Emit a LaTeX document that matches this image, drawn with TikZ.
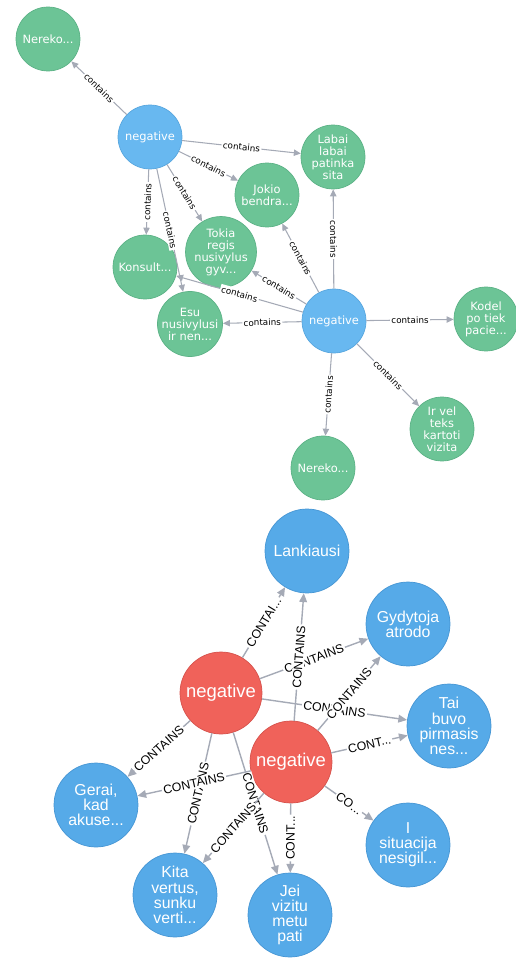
\documentclass[tikz,border=0pt]{standalone}
\usepackage{fontspec}
\newfontfamily\topfont{DejaVu Sans}
\newfontfamily\botfont{Liberation Sans}
\usetikzlibrary{shapes,arrows.meta}

\definecolor{leafgreen}{RGB}{108,196,150}
\definecolor{leafgreenline}{RGB}{92,178,134}
\definecolor{hubblue}{RGB}{104,184,240}
\definecolor{hubblueline}{RGB}{88,166,222}
\definecolor{botblue}{RGB}{86,170,232}
\definecolor{botblueline}{RGB}{70,150,212}
\definecolor{botred}{RGB}{240,98,90}
\definecolor{botredline}{RGB}{214,82,76}
\definecolor{edgegray}{RGB}{165,170,182}

\begin{document}
\begin{tikzpicture}[
    x=0.02cm, y=-0.02cm,
    leaf_top/.style={
        circle,
        draw=leafgreenline,
        fill=leafgreen,
        minimum size=1.28cm,
        inner sep=0pt,
        align=center,
        text=white,
        font=\topfont\fontsize{6.5}{6.8}\selectfont
    },
    hub_top/.style={
        leaf_top,
        draw=hubblueline,
        fill=hubblue
    },
    leaf_bottom/.style={
        circle,
        draw=botblueline,
        fill=botblue,
        minimum size=1.68cm,
        inner sep=0pt,
        align=center,
        text=white,
        font=\botfont\fontsize{9}{8.6}\selectfont
    },
    hub_bottom/.style={
        leaf_bottom,
        draw=botredline,
        fill=botred,
        minimum size=1.64cm,
        font=\botfont\fontsize{10.5}{10}\selectfont
    },
    line_top/.style={
        draw=edgegray,
        line width=0.6pt,
        -{Triangle[length=4pt,width=3.6pt]}
    },
    line_bottom/.style={
        draw=edgegray,
        line width=0.8pt,
        -{Triangle[length=5pt,width=4.4pt]}
    },
    tag_top/.style={
        midway,
        sloped,
        fill=white,
        inner sep=0.8pt,
        font=\topfont\fontsize{5}{5}\selectfont
    },
    tag_bottom/.style={
        midway,
        sloped,
        fill=white,
        inner sep=0.8pt,
        font=\botfont\fontsize{7}{7}\selectfont
    }
]
    \useasboundingbox (0,0) rectangle (516,959);

    % --- Upper graph ---
    \node [hub_top] (negA) at (150,137) {negative};
    \node [hub_top] (negB) at (334,321) {negative};

    \node [leaf_top] (nerekoA) at (48,39) {Nereko...};
    \node [leaf_top] (labai) at (333,157) {Labai\\labai\\patinka\\sita};
    \node [leaf_top] (jokio) at (267,195) {Jokio\\bendra...};
    \node [leaf_top] (tokia) at (221,252) {Tokia\\regis\\nusivylus\\gyv...};
    \node [leaf_top] (konsult) at (145,267) {Konsult...};
    \node [leaf_top] (esu) at (190,324) {Esu\\nusivylusi\\ir nen...};
    \node [leaf_top] (kodel) at (486,319) {Kodel\\po tiek\\pacie...};
    \node [leaf_top] (irvel) at (442,429) {Ir vel\\teks\\kartoti\\vizita};
    \node [leaf_top] (nerekoB) at (323,468) {Nereko...};

    \path [line_top] (negA) -- node [tag_top] {contains} (nerekoA);
    \path [line_top] (negA) -- node [tag_top] {contains} (labai);
    \path [line_top] (negA) -- node [tag_top] {contains} (jokio);
    \path [line_top] (negA) -- node [tag_top] {contains} (tokia);
    \path [line_top] (negA) -- node [tag_top] {contains} (konsult);
    \path [line_top] (negA) -- node [tag_top] {contains} (esu);
    \path [line_top] (negB) -- node [tag_top] {contains} (labai);
    \path [line_top] (negB) -- node [tag_top] {contains} (jokio);
    \path [line_top] (negB) -- node [tag_top] {contains} (tokia);
    \path [line_top] (negB) -- node [tag_top] {contains} (konsult);
    \path [line_top] (negB) -- node [tag_top] {contains} (esu);
    \path [line_top] (negB) -- node [tag_top] {contains} (kodel);
    \path [line_top] (negB) -- node [tag_top] {contains} (irvel);
    \path [line_top] (negB) -- node [tag_top] {contains} (nerekoB);

    % --- Lower graph ---
    \node [hub_bottom] (redA) at (221,693) {negative};
    \node [hub_bottom] (redB) at (291,762) {negative};

    \node [leaf_bottom] (lankiausi) at (307,551) {Lankiausi};
    \node [leaf_bottom] (gydytoja) at (408,624) {Gydytoja\\atrodo};
    \node [leaf_bottom] (tai) at (449,726) {Tai\\buvo\\pirmasis\\nes...};
    \node [leaf_bottom] (situacija) at (408,845) {I\\situacija\\nesigil...};
    \node [leaf_bottom] (jei) at (290,915) {Jei\\vizitu\\metu\\pati};
    \node [leaf_bottom] (kita) at (175,895) {Kita\\vertus,\\sunku\\verti...};
    \node [leaf_bottom] (gerai) at (96,805) {Gerai,\\kad\\akuse...};

    \path [line_bottom] (redA) -- node [tag_bottom] {CONTAI...} (lankiausi);
    \path [line_bottom] (redA) -- node [tag_bottom] {CONTAINS} (gydytoja);
    \path [line_bottom] (redA) -- node [tag_bottom] {CONTAINS} (tai);
    \path [line_bottom] (redA) -- node [tag_bottom] {CONTAINS} (gerai);
    \path [line_bottom] (redA) -- node [tag_bottom] {CONTAINS} (kita);
    \path [line_bottom] (redA) -- node [tag_bottom] {CONTAINS} (jei);
    \path [line_bottom] (redB) -- node [tag_bottom] {CONTAINS} (lankiausi);
    \path [line_bottom] (redB) -- node [tag_bottom] {CONTAINS} (gydytoja);
    \path [line_bottom] (redB) -- node [tag_bottom] {CONT...} (tai);
    \path [line_bottom] (redB) -- node [tag_bottom] {CO...} (situacija);
    \path [line_bottom] (redB) -- node [tag_bottom] {CONT...} (jei);
    \path [line_bottom] (redB) -- node [tag_bottom] {CONTAINS} (gerai);
    \path [line_bottom] (redB) -- node [tag_bottom] {CONTAINS} (kita);

\end{tikzpicture}
\end{document}
